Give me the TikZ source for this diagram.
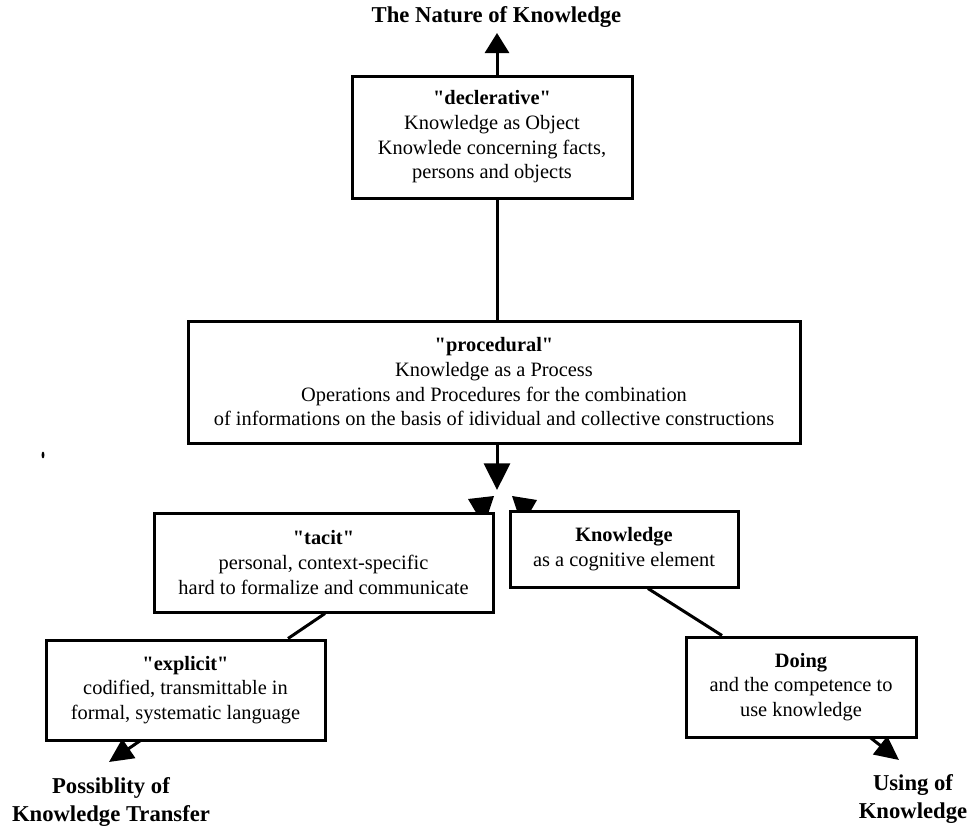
\documentclass[tikz,border=0pt]{standalone}
\usepackage{fontspec}
\setmainfont{Liberation Serif}[Ligatures=TeXOff]
\usetikzlibrary{arrows.meta,calc}
\pgfdeclarelayer{background}
\pgfsetlayers{background,main}
\begin{document}
\begin{tikzpicture}[x=0.75pt,y=-0.75pt,
  box/.style={draw,line width=2.25pt,fill=white,align=center,inner sep=0pt,
    font=\fontsize{15.3}{18.5}\selectfont},
  lab/.style={align=center,font=\fontsize{17}{21.5}\selectfont\bfseries,inner sep=0pt},
  conn/.style={line width=2.25pt},
  arrtop/.style={conn,-{Triangle[length=15pt,width=18pt]}},
  arrmid/.style={conn,-{Triangle[length=20pt,width=19.5pt]}},
  arrbot/.style={conn,-{Triangle[length=18pt,width=17pt]}}]
\useasboundingbox (0,0) rectangle (970,828);

% title and end labels
\node[lab,anchor=base] (title) at (496.5,22) {The Nature of Knowledge};
\node[lab] (transfer) at (111,802) {Possiblity of\\Knowledge Transfer};
\node[lab] (using) at (913,799) {Using of\\Knowledge};

% boxes
\node[box,minimum width=210pt,minimum height=91.5pt] (decl) at (492,137)
  {\textbf{"declerative"}\\Knowledge as Object\\Knowlede concerning facts,\\persons and objects};
\node[box,minimum width=459pt,minimum height=91.5pt] (proc) at (494,382)
  {\textbf{"procedural"}\\Knowledge as a Process\\Operations and Procedures for the combination\\of informations on the basis of idividual and collective constructions};
\node[box,minimum width=254.25pt,minimum height=74.25pt] (tacit) at (323.5,562.5)
  {\textbf{"tacit"}\\personal, context-specific\\hard to formalize and communicate};
\node[box,minimum width=171pt,minimum height=57pt] (know) at (624,549)
  {\textbf{Knowledge}\\as a cognitive element};
\node[box,minimum width=209.25pt,minimum height=75pt] (expl) at (185.5,690)
  {\textbf{"explicit"}\\codified, transmittable in\\formal, systematic language};
\node[box,minimum width=172.5pt,minimum height=75pt] (doing) at (801,687)
  {\textbf{Doing}\\and the competence to\\use knowledge};

% free ends
\coordinate (topTip) at (497,33);
\coordinate (C) at (497,490);
\coordinate (leftTip) at (109,762);
\coordinate (rightTip) at (899,760);

% connectors
\draw[arrtop] ([xshift=3.75pt]decl.north) -- (topTip);
\draw[conn] ([xshift=3.75pt]decl.south) -- ([xshift=2.25pt]proc.north);
\draw[arrmid] ([xshift=2.25pt]proc.south) -- (C);
\draw[conn] ([xshift=1.1pt]tacit.south) -- ([xshift=76.9pt]expl.north);
\draw[conn] ([xshift=18pt]know.south) -- ([xshift=-59.25pt]doing.north);

\begin{pgfonlayer}{background}
  % arrowheads partly hidden behind the boxes
  \fill (468,499) -- (494,496) -- (484,526) -- cycle;
  \fill (512,496) -- (537,500) -- (522,526) -- cycle;
  \draw[arrbot] ([xshift=-31.9pt,yshift=2pt]expl.south) -- (leftTip);
  \draw[arrbot] ([xshift=50.25pt,yshift=2pt]doing.south) -- (rightTip);
\end{pgfonlayer}

% stray mark
\fill (43,455) ellipse (1.1pt and 2.6pt);
\end{tikzpicture}
\end{document}
